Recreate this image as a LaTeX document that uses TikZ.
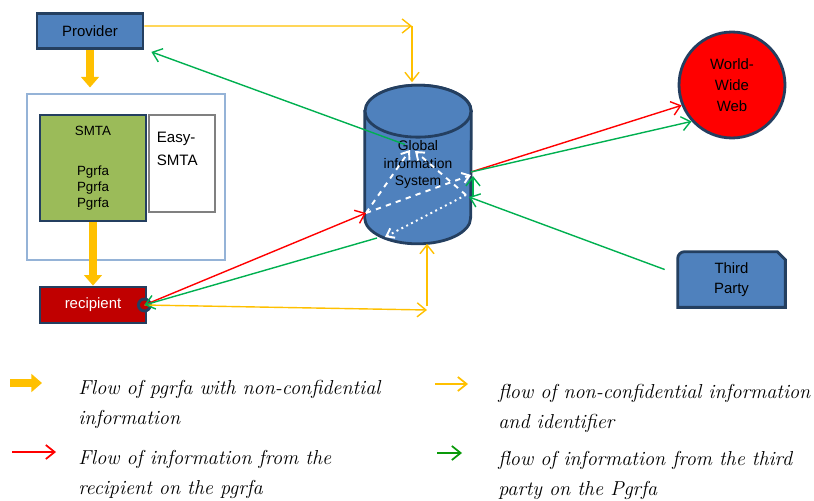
\documentclass[tikz,border=0pt]{standalone}
\usepackage{fontspec}
\setsansfont{Liberation Sans}
\usepackage{tikz}
\usetikzlibrary{arrows.meta,backgrounds}
\definecolor{boxblue}{HTML}{4F81BD}
\definecolor{boxedge}{HTML}{243F60}
\definecolor{smtagreen}{HTML}{9BBB59}
\definecolor{recred}{HTML}{C00000}
\definecolor{framblue}{HTML}{95B3D7}
\definecolor{flowyel}{HTML}{FFC000}
\definecolor{flowgrn}{HTML}{00B050}
\definecolor{keygrn}{HTML}{0A9A0A}
\definecolor{flowred}{HTML}{FF0000}
\tikzset{
  boxnode/.style = {align=center, inner sep=0pt, text centered,
    font=\sffamily\fontsize{8.5}{10}\selectfont},
  blue_box/.style = {boxnode, rectangle, draw=boxedge, fill=boxblue,
    line width=1.6pt, minimum width=2.12cm, minimum height=0.7cm},% provider
  green_box/.style = {boxnode, rectangle, draw=boxedge, fill=smtagreen,
    line width=1.6pt, minimum width=2.12cm, minimum height=2.12cm,
    font=\sffamily\fontsize{7.6}{9}\selectfont},% smta
  red_box/.style = {boxnode, rectangle, draw=boxedge, fill=recred, text=white,
    line width=1.6pt, minimum width=2.12cm, minimum height=0.72cm},% recipient
  port/.style = {circle, draw=boxedge, fill=recred, line width=1.6pt,
    minimum size=0.24cm, inner sep=0pt},
  frame_box/.style = {rectangle, draw=framblue, line width=0.6pt,
    minimum width=3.96cm, minimum height=3.32cm},
  easy_box/.style = {rectangle, draw=gray, line width=0.6pt, fill=white,
    minimum width=1.32cm, minimum height=1.94cm},
  easy_txt/.style = {align=left, inner sep=0pt,
    font=\sffamily\fontsize{8.6}{13}\selectfont},
  gis_box/.style = {boxnode, rectangle, minimum width=2.12cm,
    minimum height=3.16cm, font=\sffamily\fontsize{7.9}{10}\selectfont},% global information system
  gis_edge/.style = {draw=boxedge, fill=boxblue, line width=1.6pt},
  www_circle/.style = {boxnode, circle, draw=boxedge, fill=flowred,
    line width=1.6pt, minimum size=2.12cm,
    font=\sffamily\fontsize{8.5}{12}\selectfont},
  tp_box/.style = {boxnode, rectangle, minimum width=2.14cm,
    minimum height=1.1cm, font=\sffamily\fontsize{8.5}{11.3}\selectfont},
  tp_edge/.style = {draw=boxedge, fill=boxblue, line width=1.6pt},
  flow_thick/.style = {draw=flowyel, line width=4pt,
    -{Triangle[length=6pt,width=10pt]}},
  flow_y/.style = {draw=flowyel, line width=0.8pt,
    -{Straight Barb[length=5pt,width=8pt]}},
  flow_r/.style = {flow_y, draw=flowred},
  flow_g/.style = {flow_y, draw=flowgrn},
  inner_w/.style = {draw=white, line width=1.1pt, dashed,
    -{Straight Barb[length=4pt,width=6pt]}},
  legend_txt/.style = {anchor=base west, align=left, inner sep=0pt,
    font=\itshape\fontsize{11.5}{17}\selectfont}
}

\begin{document}
\begin{tikzpicture}[x=0.02cm, y=-0.02cm]
  \useasboundingbox (0,0) rectangle (814,500);
  % boxes
  \node [blue_box] (prov) at (90,31) {Provider};
  \node [frame_box] (frame) at (126,177) {};
  \node [green_box] (smta) at (93,168) {SMTA\\[14pt]Pgrfa\\Pgrfa\\Pgrfa};
  \node [easy_box] (easy) at (182,163.5) {};
  \node [easy_txt, anchor=north west] (easytxt)
    at ([shift={(8,17)}]easy.north west) {Easy-\\SMTA};
  \node [red_box] (rec) at (93,305) {recipient};
  \node [port] (recport) at ([xshift=-0.06cm]rec.east) {};
  \node [gis_box] (gis) at (418,164.5) {Global\\information\\System};
  \node [www_circle] (www) at (732,85) {World-\\Wide\\Web};
  \node [tp_box] (tp) at (731.5,279.5) {Third\\Party};
  \begin{pgfonlayer}{background}
    \filldraw [gis_edge] ([yshift=-0.52cm]gis.north west)
      -- ([yshift=0.52cm]gis.south west)
      arc [start angle=180, end angle=360, x radius=1.06cm, y radius=0.52cm]
      -- ([yshift=-0.52cm]gis.north east)
      arc [start angle=0, end angle=180, x radius=1.06cm, y radius=0.52cm]
      -- cycle;
    \draw [gis_edge] ([yshift=-0.52cm]gis.north)
      ellipse [x radius=1.06cm, y radius=0.52cm];
    \filldraw [tp_edge] (tp.south west) -- ([yshift=-0.14cm]tp.north west)
      arc [start angle=180, end angle=90, radius=0.14cm]
      -- ([xshift=-0.16cm]tp.north east) -- ([yshift=-0.16cm]tp.north east)
      -- (tp.south east) -- cycle;
  \end{pgfonlayer}

  % points on the cylinder
  \coordinate (gL) at (366,213);
  \coordinate (gT) at (410,150);
  \coordinate (gT2) at (415,151);
  \coordinate (gR) at (471,175);
  \coordinate (gRb) at (466,195);
  \coordinate (gB) at (385,237);
  \coordinate (gBL) at (377,238);
  \coordinate (gO) at (471,172);
  \coordinate (gIn) at (469,197);
  \coordinate (gUp0) at (473,196);
  \coordinate (gUp) at (473,176);
  \draw [inner_w] (gL) -- (gT);
  \draw [inner_w] (gRb) -- (gT2);
  \draw [inner_w] (gL) -- (gR);
  \draw [inner_w, dotted] (gRb) -- (gB);

  % pgrfa flow
  \draw [flow_thick] (prov.south) -- ([yshift=0.12cm]frame.north -| prov.south);
  \draw [flow_thick] (smta.south) -- (rec.north);

  % non-confidential information
  \coordinate (ytop) at (412,26);
  \coordinate (ybot) at (427,310);
  \draw [flow_y] ([yshift=0.1cm]prov.east) -- (ytop);
  \draw [flow_y, shorten >=0.06cm] (ytop) -- (ytop |- gis.north);
  \draw [flow_y] (recport.center) -- (ybot);
  \draw [flow_y] ([yshift=0.08cm]ybot) -- (ybot |- gis.south);

  % recipient and third party
  \draw [flow_g] ([shift={(-13,-20)}]gis.center) -- ([shift={(7,2)}]prov.south east);
  \draw [flow_r] (recport.center) -- (gL);
  \draw [flow_g] (gBL) -- (recport.center);
  \draw [flow_r] (gO) -- (www.202);
  \draw [flow_g] (gO) -- (www.222);
  \draw [flow_g] ([shift={(-13,-10)}]tp.west) -- (gIn);
  \draw [flow_g] (gUp0) -- (gUp);

  % legend
  \coordinate (k1a) at (10,383);
  \coordinate (k1b) at (42,383);
  \coordinate (k2a) at (435,384);
  \coordinate (k2b) at (468,384);
  \coordinate (k3a) at (12,452);
  \coordinate (k3b) at (56,452);
  \coordinate (k4a) at (437,453);
  \coordinate (k4b) at (462,453);
  \draw [flow_thick, line width=4.5pt] (k1a) -- (k1b);
  \draw [flow_y, line width=1pt] (k2a) -- (k2b);
  \draw [flow_r, line width=1pt] (k3a) -- (k3b);
  \draw [flow_g, draw=keygrn, line width=1pt] (k4a) -- (k4b);
  \node [legend_txt] (key1) at (78,424) {Flow of pgrfa with non-confidential\\information};
  \node [legend_txt] (key2) at (498,428) {flow of non-confidential information\\and identifier};
  \node [legend_txt] (key3) at (78,494) {Flow of information from the\\recipient on the pgrfa};
  \node [legend_txt] (key4) at (498,495) {flow of information from the third\\party on the Pgrfa};
\end{tikzpicture}
\end{document}
